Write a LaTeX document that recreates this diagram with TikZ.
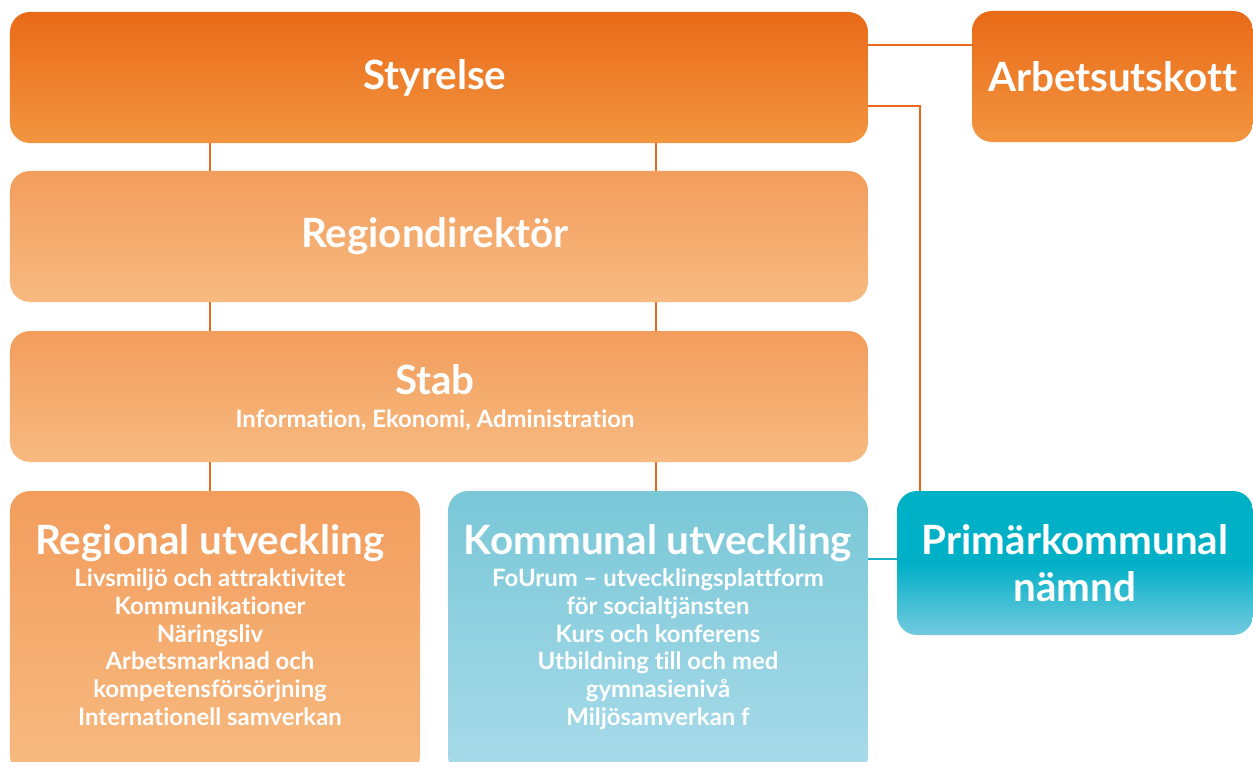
\documentclass[tikz,border=0pt]{standalone}
\usepackage{fontspec}
\setmainfont{Lato}[Ligatures=NoCommon]
\usetikzlibrary{positioning}
\definecolor{otop}{HTML}{E96A17}
\definecolor{obot}{HTML}{F29540}
\definecolor{ltop}{HTML}{F29D5D}
\definecolor{lbot}{HTML}{F7BA80}
\definecolor{btop}{HTML}{79C7D7}
\definecolor{bbot}{HTML}{A9DBEA}
\definecolor{ctop}{HTML}{00B0C7}
\definecolor{cbot}{HTML}{74CADF}
\definecolor{oline}{HTML}{E8691C}
\definecolor{cline}{HTML}{1BAFC6}
\newcommand\titlesize{\fontsize{40.5}{47}\selectfont\bfseries}
\newcommand\subsize{\fontsize{24}{27.8}\selectfont\bfseries}

\begin{document}
\begin{tikzpicture}[x=1bp, y=-1bp,
    orgbox/.style={rounded corners=20bp, inner sep=0pt, text=white, align=center, font=\titlesize},
    topbox/.style={orgbox, top color=otop, bottom color=obot},
    midbox/.style={orgbox, top color=ltop, bottom color=lbot},
    bluebox/.style={orgbox, top color=btop, bottom color=bbot},
    cyanbox/.style={orgbox, top color=ctop, bottom color=cbot, middle color=ctop},
    boxtext/.style={text=white, align=center, inner sep=0pt, font=\subsize},
    link/.style={draw=oline, line width=2bp},
    clink/.style={draw=cline, line width=2bp}]
  \useasboundingbox (0,0) rectangle (1253,762);
  \clip (0,0) rectangle (1253,762);

  % boxes
  \node[topbox, minimum width=858bp, minimum height=131bp] (styrelse) at (439,77.5) {\hspace*{-8bp}Styrelse};
  \node[topbox, minimum width=281bp, minimum height=131bp] (utskott) at (1112.5,76.5) {Arbetsutskott};
  \node[midbox, minimum width=858bp, minimum height=131bp] (direktor) at (439,236.5) {\hspace*{-8bp}Regiondirektör};
  \node[midbox, minimum width=858bp, minimum height=131bp] (stab) at (439,396.5) {};
  \node[midbox, minimum width=410bp, minimum height=285bp] (regional) at (215,633.5) {};
  \node[bluebox, minimum width=420bp, minimum height=285bp] (kommunal) at (658,633.5) {};
  \node[cyanbox, minimum width=356bp, minimum height=144bp] (primar) at (1075,563) {Primärkommunal\\nämnd};

  % texts
  \node[boxtext, below=34bp of stab.north, xshift=-4bp] (stabtext)
    {{\titlesize Stab}\\[5bp]Information, Ekonomi, Administration};
  \node[boxtext, below=34bp of regional.north, xshift=-5bp] (regtext)
    {{\titlesize Regional utveckling}\\[4bp]
     Livsmiljö och attraktivitet\\Kommunikationer\\Näringsliv\\Arbetsmarknad och\\kompetensförsörjning\\Internationell samverkan};
  \node[boxtext, below=34bp of kommunal.north] (komtext)
    {{\titlesize Kommunal utveckling}\\[4bp]
     FoUrum – utvecklingsplattform\\för socialtjänsten\\Kurs och konferens\\Utbildning till och med\\gymnasienivå\\Miljösamverkan f};

  % connectors
  \coordinate (colA) at (210,0);
  \coordinate (colB) at (656,0);
  \coordinate (colC) at (920,0);
  \coordinate (rowA) at (0,45);
  \coordinate (rowB) at (0,106);
  \coordinate (rowC) at (0,559);
  \draw[link] (styrelse.south -| colA) -- (direktor.north -| colA);
  \draw[link] (styrelse.south -| colB) -- (direktor.north -| colB);
  \draw[link] (direktor.south -| colA) -- (stab.north -| colA);
  \draw[link] (direktor.south -| colB) -- (stab.north -| colB);
  \draw[link] (stab.south -| colA) -- (regional.north -| colA);
  \draw[link] (stab.south -| colB) -- (kommunal.north -| colB);
  \draw[link] (styrelse.east |- rowA) -- (utskott.west |- rowA);
  \draw[link] (styrelse.east |- rowB) -| (colC |- primar.north);
  \draw[clink] (kommunal.east |- rowC) -- (primar.west |- rowC);
\end{tikzpicture}
\end{document}
